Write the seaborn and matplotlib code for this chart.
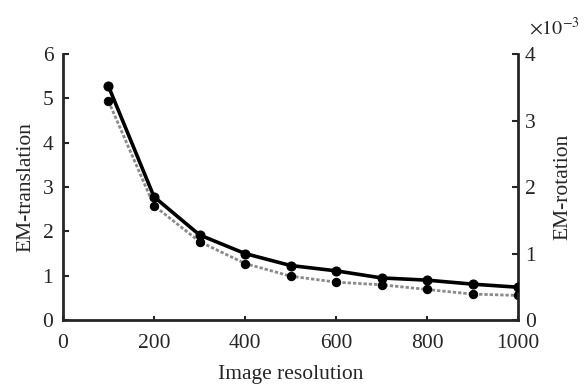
import numpy as np
import pandas as pd
import matplotlib
matplotlib.use("Agg")
import matplotlib.pyplot as plt
import seaborn as sns

resolution = [100, 200, 300, 400, 500, 600, 700, 800, 900, 1000]
em_translation = [5.27, 2.78, 1.92, 1.50, 1.23, 1.11, 0.95, 0.90, 0.81, 0.74]
em_rotation = [3.29, 1.72, 1.18, 0.85, 0.66, 0.57, 0.53, 0.46, 0.39, 0.37]  # x 10^-3

x_ticks = [0, 200, 400, 600, 800, 1000]
left_ticks = [0, 1, 2, 3, 4, 5, 6]
right_ticks = [0, 1, 2, 3, 4]

sns.set_style("ticks")
plt.rcParams["font.family"] = ["Liberation Serif", "DejaVu Serif"]
plt.rcParams["mathtext.fontset"] = "stix"

df = pd.DataFrame({"res": resolution, "trans": em_translation, "rot": em_rotation})

fig = plt.figure(figsize=(5.86, 3.87), dpi=100)
ax = fig.add_axes([0.1075, 0.173, 0.7765, 0.6875])
ax2 = ax.twinx()

sns.lineplot(data=df, x="res", y="rot", ax=ax2, color="#8a8a8a", linestyle=(0, (1.2, 0.7)),
             linewidth=2.0, marker="o", markersize=6, markerfacecolor="black",
             markeredgecolor="black")
sns.lineplot(data=df, x="res", y="trans", ax=ax, color="black", linewidth=2.6,
             marker="o", markersize=6.5, markerfacecolor="black", markeredgecolor="black")
ax.set_zorder(ax2.get_zorder() + 1)
ax.patch.set_visible(False)

fs = 15.5
ax.set_xlim(0, 1000)
ax.set_ylim(0, 6)
ax2.set_ylim(0, 4)
ax.set_xticks(x_ticks)
ax.set_yticks(left_ticks)
ax2.set_yticks(right_ticks)
ax.set_xlabel("Image resolution", fontsize=fs, labelpad=9)
ax.set_ylabel("EM-translation", fontsize=fs, labelpad=5)
ax2.set_ylabel("EM-rotation", fontsize=fs, labelpad=13)
ax.tick_params(axis="x", direction="in", length=3, width=1.5, labelsize=fs, pad=10)
ax.tick_params(axis="y", direction="in", length=4, width=1.5, labelsize=fs, pad=7)
ax2.tick_params(axis="y", direction="in", length=4, width=1.5, labelsize=fs, pad=5)

for a in (ax, ax2):
    a.spines["top"].set_visible(False)
    for s in ("left", "right", "bottom"):
        a.spines[s].set_linewidth(2.0)
ax.spines["right"].set_visible(False)
ax2.spines["left"].set_visible(False)
ax2.spines["bottom"].set_visible(False)

fig.text(0.903, 0.925, r"$\times10^{-3}$", fontsize=14.5, ha="left", va="center")

fig.savefig("out.png", dpi=100)
